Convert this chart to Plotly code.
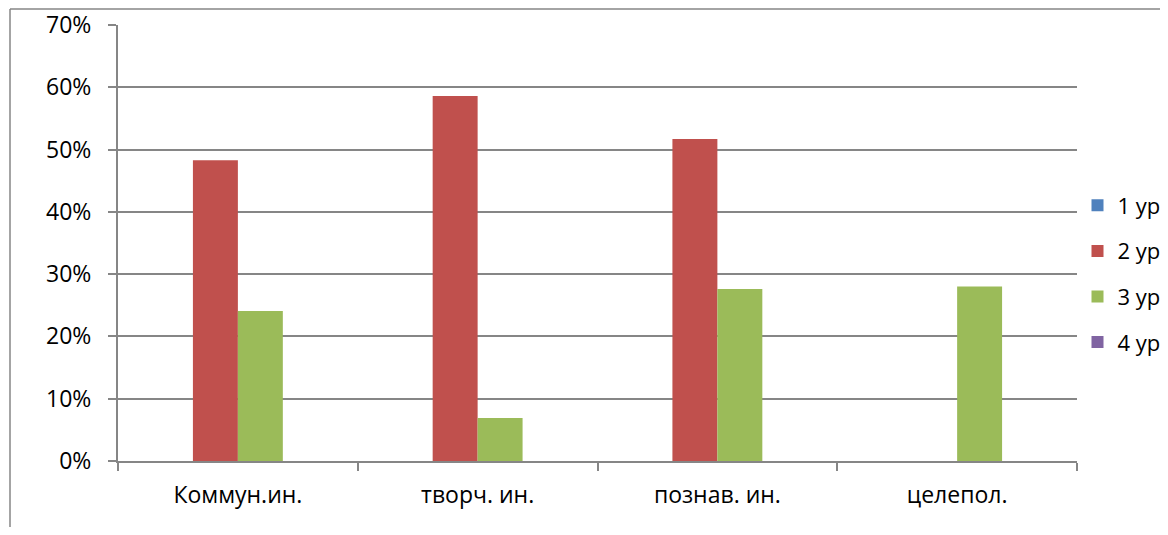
import plotly.graph_objects as go

categories = ["Коммун.ин.", "творч. ин.", "познав. ин.", "целепол."]
series_names = ["1 ур", "2 ур", "3 ур", "4 ур"]
lvl1 = [0, 0, 0, 0]
lvl2 = [0.483, 0.586, 0.517, 0]
lvl3 = [0.241, 0.069, 0.276, 0.28]
lvl4 = [0, 0, 0, 0]
colors = ["#4F81BD", "#C0504D", "#9BBB59", "#8064A2"]
y_ticks = [0, 0.1, 0.2, 0.3, 0.4, 0.5, 0.6, 0.7]
y_tick_labels = ["0%", "10%", "20%", "30%", "40%", "50%", "60%", "70%"]

fig = go.Figure()
for name, vals, col in zip(series_names, [lvl1, lvl2, lvl3, lvl4], colors):
    fig.add_trace(go.Bar(x=categories, y=vals, name=name, marker_color=col,
                         marker_line_width=0, legendgroup=name))

# page is offset by 8px body margin; keep figure inside the window
W, H = 1160, 519
ml, mr, mt, mb = 110, 91, 17, 66
pw, ph = W - ml - mr, H - mt - mb

def px(x):
    return (x - ml) / pw

def py(y):
    return (H - mb - y) / ph

fig.update_layout(
    width=W, height=H,
    margin=dict(l=ml, r=mr, t=mt, b=mb, pad=0),
    paper_bgcolor="white", plot_bgcolor="white",
    font=dict(family="Open Sans, sans-serif", size=23, color="black"),
    barmode="group", bargap=0.25, bargroupgap=0,
    showlegend=True,
    legend=dict(xref="container", yref="container",
                x=1069.5 / W, y=1 - 266 / H, xanchor="left", yanchor="middle",
                tracegroupgap=14, font=dict(size=22), borderwidth=0,
                bgcolor="rgba(0,0,0,0)"),
    xaxis=dict(showline=True, linecolor="#868686", linewidth=2,
               ticks="outside", ticklen=8, tickcolor="#868686", tickwidth=2,
               tickson="boundaries", showgrid=False, range=[-0.5, 3.5],
               tickfont=dict(size=23), ticklabelstandoff=12, automargin=False),
    yaxis=dict(range=[0, 0.7], tickvals=y_ticks, ticktext=y_tick_labels,
               showgrid=True, gridcolor="#868686", gridwidth=2,
               showline=True, linecolor="#868686", linewidth=2,
               ticks="outside", ticklen=8, tickcolor="#868686", tickwidth=2,
               tickfont=dict(size=23), zeroline=False, ticklabelstandoff=12,
               automargin=False),
    shapes=[
        dict(type="line", xref="paper", yref="paper",
             x0=px(2), x1=px(1165), y0=py(1), y1=py(1),
             line=dict(color="#868686", width=1.5)),
        dict(type="line", xref="paper", yref="paper",
             x0=px(2), x1=px(2), y0=py(1), y1=py(530),
             line=dict(color="#868686", width=1.5)),
    ],
)

fig.write_html("out.html")
